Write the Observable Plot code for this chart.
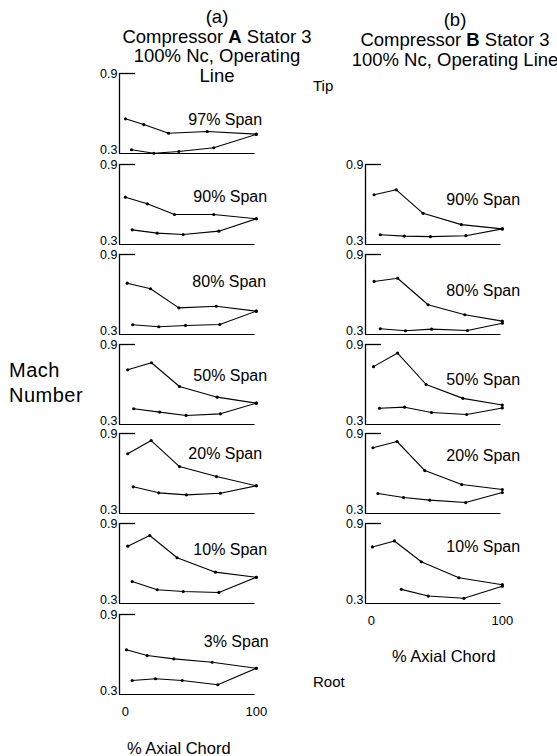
<!DOCTYPE html>
<html>
<head>
<meta charset="utf-8">
<script src="https://cdn.jsdelivr.net/npm/d3@7"></script>
<script src="https://cdn.jsdelivr.net/npm/@observablehq/plot@0.6"></script>
<style>
  html, body { margin: 0; padding: 0; background: #fff; }
  #root { position: relative; width: 557px; height: 756px; overflow: hidden; background: #fff;
          font-family: 'Liberation Sans', Arial, Helvetica, sans-serif; color: #000; }
  .abs { position: absolute; white-space: nowrap; }
  .title { font-size: 18.5px; line-height: 19.5px; text-align: center; }
  .panel { position: absolute; }
</style>
</head>
<body>
<div id="root">
  <div class="abs title" style="left:117px;width:200px;top:7px;">(a)<br>Compressor <b>A</b> Stator 3<br>100% Nc, Operating<br>Line</div>
  <div class="abs title" style="left:335px;width:240px;top:10px;line-height:20px;">(b)<br>Compressor <b>B</b> Stator 3<br>100% Nc, Operating Line</div>
  <div class="abs" style="left:9px;top:358px;font-size:20px;line-height:25px;letter-spacing:0.5px;">Mach<br>Number</div>
  <div class="abs" style="left:313px;top:77px;font-size:15px;">Tip</div>
  <div class="abs" style="left:313px;top:673px;font-size:15px;">Root</div>
  <div class="abs" style="left:127px;top:739px;font-size:16.5px;">% Axial Chord</div>
  <div class="abs" style="left:392px;top:647px;font-size:16.5px;">% Axial Chord</div>
</div>
<script>
// ---------- data ----------
const spanLabels = ["97% Span", "90% Span", "80% Span", "50% Span", "20% Span", "10% Span", "3% Span"];
const xTicks = [0, 100];
const yTicks = [0.3, 0.9];

// Compressor A Stator 3 : [% axial chord, Mach number]
const A97_upper = [[0, 0.560], [14, 0.517], [33, 0.452], [62.5, 0.465], [100, 0.445]];
const A97_lower = [[4.7, 0.328], [21.7, 0.302], [40.8, 0.315], [67.5, 0.343], [100, 0.443]];
const A90_upper = [[0, 0.655], [16.7, 0.605], [37.5, 0.525], [67.5, 0.525], [100, 0.493]];
const A90_lower = [[5.2, 0.410], [24.3, 0.385], [44.2, 0.375], [71.4, 0.400], [100, 0.493]];
const A80_upper = [[1.4, 0.685], [19.2, 0.643], [40.8, 0.500], [69.5, 0.512], [100, 0.475]];
const A80_lower = [[5.6, 0.373], [25.5, 0.358], [45.9, 0.368], [72.1, 0.375], [100, 0.475]];
const A50_upper = [[1.8, 0.710], [19.9, 0.763], [41.3, 0.585], [70.1, 0.505], [100, 0.460]];
const A50_lower = [[6.4, 0.418], [26.2, 0.393], [46.4, 0.368], [72.6, 0.380], [100, 0.460]];
const A20_upper = [[1.8, 0.748], [19.7, 0.847], [41.3, 0.652], [69.6, 0.577], [100, 0.508]];
const A20_lower = [[6.0, 0.500], [25.5, 0.455], [46.6, 0.440], [72.6, 0.452], [100, 0.508]];
const A10_upper = [[1.8, 0.730], [18.6, 0.810], [39.5, 0.643], [68.8, 0.535], [100, 0.497]];
const A10_lower = [[5.2, 0.465], [24.3, 0.403], [44.2, 0.390], [71.4, 0.383], [100, 0.497]];
const A3_upper  = [[0.8, 0.635], [16.6, 0.592], [37.0, 0.567], [66.3, 0.542], [100, 0.497]];
const A3_lower  = [[5.2, 0.405], [23.0, 0.418], [43.4, 0.405], [70.6, 0.373], [100, 0.497]];

// Compressor B Stator 3
const B90_upper = [[2.1, 0.673], [19.0, 0.710], [39.5, 0.534], [68.7, 0.449], [100, 0.417]];
const B90_lower = [[6.8, 0.373], [25.2, 0.363], [45.1, 0.359], [72.2, 0.366], [100, 0.417]];
const B80_upper = [[2.1, 0.698], [20.0, 0.722], [43.3, 0.523], [71.4, 0.448], [100, 0.400]];
const B80_lower = [[6.8, 0.343], [26.0, 0.328], [46.0, 0.340], [73.3, 0.330], [100, 0.385]];
const B50_upper = [[1.6, 0.734], [20.0, 0.836], [41.8, 0.600], [69.9, 0.496], [100, 0.446]];
const B50_lower = [[6.2, 0.422], [25.4, 0.430], [45.9, 0.390], [72.8, 0.375], [100, 0.424]];
const B20_upper = [[1.2, 0.793], [19.6, 0.840], [40.8, 0.622], [69.0, 0.517], [100, 0.480]];
const B20_lower = [[5.0, 0.450], [24.6, 0.420], [44.6, 0.400], [72.0, 0.382], [100, 0.457]];
const B10_upper = [[0.8, 0.724], [17.6, 0.769], [38.1, 0.613], [66.8, 0.493], [100, 0.441]];
const B10_lower = [[22.9, 0.406], [43.4, 0.356], [70.7, 0.339], [100, 0.430]];

// ---------- layout ----------
const FONT = "'Liberation Sans', Arial, Helvetica, sans-serif";
const xDomain = [-4.5, 99];
const rowTop = [73, 164, 254, 344, 433, 523, 614];
const colLeft = {A: 85, B: 331};
const labelDxA = [38, 43, 42, 43, 38, 43, 49];
const labelDyA = [40, 26, 21, 25, 14, 20, 21];
const labelDyB = [null, 29, 30, 29, 16, 17, null];

const MT = 10, INNER_H = 80, ML = 34, FRAME_W = 135.5, W = 200;

function panel(upper, lower, label, dx, dy, showX) {
  const mb = showX ? 34 : 6;
  const pt = (d) => d[0], pv = (d) => d[1];
  return Plot.plot({
    width: W, height: MT + INNER_H + mb,
    marginTop: MT, marginBottom: mb, marginLeft: ML, marginRight: W - ML - FRAME_W,
    x: {domain: xDomain, axis: null},
    y: {domain: [yTicks[0], yTicks[1]], axis: null},
    style: {fontFamily: FONT, background: "transparent", overflow: "visible", color: "black"},
    marks: [
      Plot.ruleX([xDomain[0]], {stroke: "black", strokeWidth: 1.3}),
      Plot.ruleY([yTicks[0]], {stroke: "black", strokeWidth: 1.2}),
      Plot.ruleY([yTicks[1]], {stroke: "black", strokeWidth: 1.3, insetRight: FRAME_W - 16}),
      Plot.axisY([yTicks[1]], {tickSize: 0, tickPadding: 2, fontSize: 12.5, label: null}),
      Plot.axisY([yTicks[0]], {tickSize: 0, tickPadding: 2, fontSize: 12.5, dy: -4, label: null}),
      showX ? Plot.axisX(xTicks, {tickSize: 0, tickPadding: 12, fontSize: 13, label: null}) : null,
      Plot.line(upper, {x: pt, y: pv, stroke: "black", strokeWidth: 1.1}),
      Plot.line(lower, {x: pt, y: pv, stroke: "black", strokeWidth: 1.1}),
      Plot.dot(upper, {x: pt, y: pv, r: 1.6, fill: "black", stroke: null}),
      Plot.dot(lower, {x: pt, y: pv, r: 1.6, fill: "black", stroke: null}),
      Plot.text([label], {frameAnchor: "top", dx: dx, dy: dy, fontSize: 16, fill: "black"})
    ]
  });
}

const root = document.getElementById("root");
function place(svg, col, row) {
  const div = document.createElement("div");
  div.className = "panel";
  div.style.left = colLeft[col] + "px";
  div.style.top = (rowTop[row] - MT) + "px";
  div.appendChild(svg);
  root.appendChild(div);
}

const A = [[A97_upper, A97_lower], [A90_upper, A90_lower], [A80_upper, A80_lower], [A50_upper, A50_lower],
           [A20_upper, A20_lower], [A10_upper, A10_lower], [A3_upper, A3_lower]];
A.forEach(([u, l], i) => place(panel(u, l, spanLabels[i], labelDxA[i], labelDyA[i], i === A.length - 1), "A", i));

const B = [null, [B90_upper, B90_lower], [B80_upper, B80_lower], [B50_upper, B50_lower],
           [B20_upper, B20_lower], [B10_upper, B10_lower], null];
B.forEach((p, i) => {
  if (!p) return;
  place(panel(p[0], p[1], spanLabels[i], 50, labelDyB[i], i === 5), "B", i);
});
</script>
</body>
</html>
